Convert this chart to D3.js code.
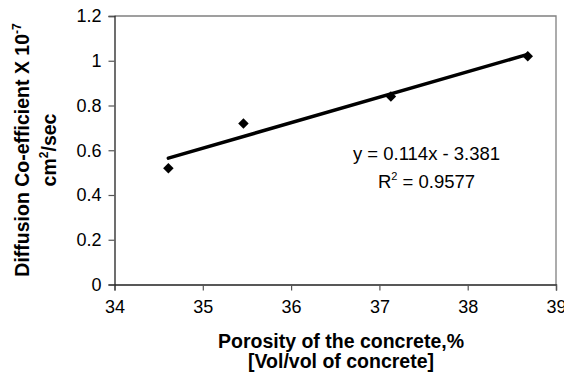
<!DOCTYPE html>
<html>
<head>
<meta charset="utf-8">
<script src="https://cdn.jsdelivr.net/npm/d3@7"></script>
<style>
  body { margin: 0; background: #fff; }
  svg text { font-family: "Liberation Sans", Arial, sans-serif; fill: #000; }
</style>
</head>
<body>
<svg id="chart"></svg>
<script>
// data
var porosity = [34.61, 35.46, 37.13, 38.68];      // x values, %
var diffusion = [0.52, 0.72, 0.84, 1.02];          // y values, x 10^-7 cm2/sec
var xTicks = [34, 35, 36, 37, 38, 39];
var yTicks = [0, 0.2, 0.4, 0.6, 0.8, 1, 1.2];
var trendSlope = 0.114;                            // linear trend from the chart
var trendIntercept = -3.381;
var trendLabel = "y = 0.114x - 3.381";
var r2Label = "0.9577";

var width = 564,
    height = 378;

var margin = {left: 114.5, right: 8, top: 16, bottom: 93.5};

var svg = d3.select("#chart")
    .attr("width", width)
    .attr("height", height);

var x = d3.scaleLinear()
    .domain([34, 39])
    .range([margin.left, width - margin.right]);

var y = d3.scaleLinear()
    .domain([0, 1.2])
    .range([height - margin.bottom, margin.top]);

// plot frame (top + right are grey)
svg.append("path")
    .attr("d", "M" + x(34) + "," + y(1.2) + "H" + x(39) + "V" + y(0))
    .attr("fill", "none")
    .attr("stroke", "#808080")
    .attr("stroke-width", 1.3);

// axes
var xAxis = svg.append("g")
    .attr("transform", "translate(0," + y(0) + ")")
    .call(d3.axisBottom(x).tickValues(xTicks).tickSize(6).tickPadding(10).tickFormat(d3.format("d")));

var yAxis = svg.append("g")
    .attr("transform", "translate(" + x(34) + ",0)")
    .call(d3.axisLeft(y).tickValues(yTicks).tickSize(6).tickPadding(7).tickFormat(function(d) { return d3.format("")(d); }));

[xAxis, yAxis].forEach(function(ax) {
  ax.select(".domain").attr("stroke", "#222").attr("stroke-width", 1.3);
  ax.selectAll(".tick line").attr("stroke", "#555").attr("stroke-width", 1.2);
  ax.selectAll(".tick text")
    .attr("font-size", 18)
    .attr("font-family", "Liberation Sans, Arial, sans-serif")
    .attr("fill", "#000");
});

// trend line over the data range
var xMin = d3.min(porosity), xMax = d3.max(porosity);
svg.append("line")
    .attr("x1", x(xMin))
    .attr("y1", y(trendSlope * xMin + trendIntercept))
    .attr("x2", x(xMax))
    .attr("y2", y(trendSlope * xMax + trendIntercept))
    .attr("stroke", "#000")
    .attr("stroke-width", 3.5)
    .attr("stroke-linecap", "round");

// diamond markers
var points = porosity.map(function(d, i) { return [d, diffusion[i]]; });
svg.selectAll(".pt")
    .data(points)
  .enter().append("path")
    .attr("class", "pt")
    .attr("d", d3.symbol().type(d3.symbolDiamond2).size(70))
    .attr("transform", function(d) { return "translate(" + x(d[0]) + "," + y(d[1]) + ")"; })
    .attr("fill", "#000");

// equation label
var eq = svg.append("text")
    .attr("x", 426.5)
    .attr("y", 160)
    .attr("text-anchor", "middle")
    .attr("font-size", 18.5);
eq.text(trendLabel);

var r2 = svg.append("text")
    .attr("x", 426.5)
    .attr("y", 188)
    .attr("text-anchor", "middle")
    .attr("font-size", 18.5);
r2.append("tspan").text("R");
r2.append("tspan").attr("font-size", 11).attr("dy", -8).text("2");
r2.append("tspan").attr("dy", 8).text(" = " + r2Label);

// x title
var xt = svg.append("text")
    .attr("text-anchor", "middle")
    .attr("font-weight", "bold")
    .attr("font-size", 19.5);
xt.append("tspan").attr("x", 341).attr("y", 348).text("Porosity of the concrete,%");
xt.append("tspan").attr("x", 341).attr("y", 368).text("[Vol/vol of concrete]");

// y title, two rotated lines
var yt1 = svg.append("text")
    .attr("transform", "translate(28.5,150) rotate(-90)")
    .attr("text-anchor", "middle")
    .attr("font-weight", "bold")
    .attr("font-size", 19.5);
yt1.append("tspan").text("Diffusion Co-efficient X 10");
yt1.append("tspan").attr("font-size", 12).attr("dy", -8).text("-7");

var yt2 = svg.append("text")
    .attr("transform", "translate(56,150) rotate(-90)")
    .attr("text-anchor", "middle")
    .attr("font-weight", "bold")
    .attr("font-size", 19.5);
yt2.append("tspan").text("cm");
yt2.append("tspan").attr("font-size", 12).attr("dy", -8).text("2");
yt2.append("tspan").attr("dy", 8).text("/sec");
</script>
</body>
</html>
